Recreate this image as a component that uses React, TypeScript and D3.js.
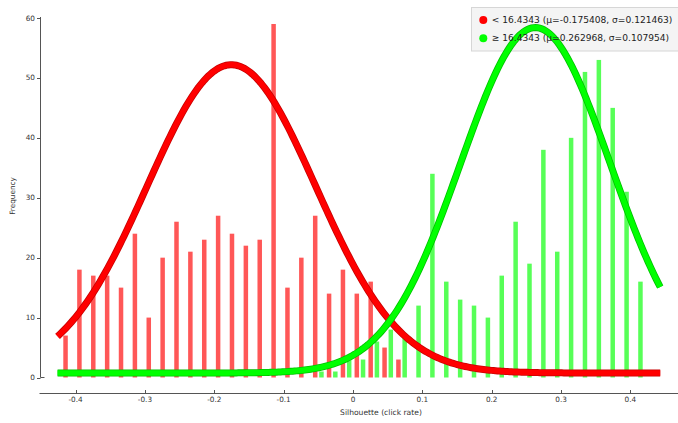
import React from "react";
import * as d3 from "d3";

const W = 678;
const H = 423;

// bin centres: -0.41 ... 0.41 step 0.02 (index k)
const binStart = -0.41;
const binStep = 0.02;
const redStartIndex = 0;
const redCounts = [7, 18, 17, 17, 15, 24, 10, 20, 26, 21, 23, 27, 24, 22, 23, 59, 15, 20, 27, 14, 18, 14, 16, 5, 3];
const greenStartIndex = 18;
const greenCounts = [1, 1, 3, 3, 6, 8, 7, 12, 34, 16, 13, 12, 10, 17, 26, 19, 38, 21, 40, 51, 53, 45, 31, 16];

const redMu = -0.175408;
const redSigma = 0.121463;
const greenMu = 0.262968;
const greenSigma = 0.107954;
const curveScale = 0.0323;
const curveBase = 0.75;
const curveDomain = [-0.426, 0.443];

const xTicks = [-0.4, -0.3, -0.2, -0.1, 0, 0.1, 0.2, 0.3, 0.4];
const yTicks = [0, 10, 20, 30, 40, 50, 60];

const legendLabels = [
  "< 16.4343 (\u03bc=-0.175408, \u03c3=0.121463)",
  "\u2265 16.4343 (\u03bc=0.262968, \u03c3=0.107954)",
];

export default function App() {
  const x = d3.scaleLinear().domain([-0.4, 0.4]).range([75.6, 630.4]);
  const y = d3.scaleLinear().domain([0, 60]).range([377.5, 18]);
  const barW = 4.5;
  const off = 0.0045;

  const gauss = (mu: number, sigma: number, n: number) => {
    const A = (n * curveScale) / (sigma * Math.sqrt(2 * Math.PI));
    const pts: [number, number][] = [];
    const N = 300;
    for (let i = 0; i <= N; i++) {
      const v = curveDomain[0] + ((curveDomain[1] - curveDomain[0]) * i) / N;
      pts.push([v, curveBase + A * Math.exp(-((v - mu) ** 2) / (2 * sigma * sigma))]);
    }
    return pts;
  };
  const line = d3
    .line<[number, number]>()
    .x((d) => x(d[0]))
    .y((d) => y(d[1]))
    .curve(d3.curveLinear);

  const redN = d3.sum(redCounts);
  const greenN = d3.sum(greenCounts);
  const redPath = line(gauss(redMu, redSigma, redN)) || "";
  const greenPath = line(gauss(greenMu, greenSigma, greenN)) || "";

  const axisColor = "#555";
  const textColor = "#333";
  const font = "DejaVu Sans, Verdana, sans-serif";

  return (
    <svg
      width={W}
      height={H}
      style={{ position: "absolute", left: 0, top: 0, background: "#fff" }}
      fontFamily={font}
    >
      <rect x={0} y={0} width={W} height={H} fill="#fff" />
      {/* legend box (behind curves) */}
      <rect x={471.5} y={7.5} width={220} height={43.5} fill="#f4f4f4" stroke="#d6d6d6" />
      {/* bars */}
      {redCounts.map((c, i) => {
        const v = binStart + binStep * (redStartIndex + i) - off;
        return (
          <rect
            key={"r" + i}
            x={x(v) - barW / 2}
            y={y(c)}
            width={barW}
            height={y(0) - y(c)}
            fill="#ff0000"
            fillOpacity={0.66}
          />
        );
      })}
      {greenCounts.map((c, i) => {
        const v = binStart + binStep * (greenStartIndex + i) + off;
        return (
          <rect
            key={"g" + i}
            x={x(v) - barW / 2}
            y={y(c)}
            width={barW}
            height={y(0) - y(c)}
            fill="#00ff00"
            fillOpacity={0.66}
          />
        );
      })}
      {/* curves */}
      <path d={redPath} fill="none" stroke="#c80000" strokeWidth={7} />
      <path d={redPath} fill="none" stroke="#ff0000" strokeWidth={5.4} />
      <path d={greenPath} fill="none" stroke="#00c000" strokeWidth={7} />
      <path d={greenPath} fill="none" stroke="#00ff00" strokeWidth={5.4} />

      {/* y axis */}
      <line x1={40.5} x2={40.5} y1={17} y2={377.5} stroke={axisColor} strokeWidth={1} />
      <line x1={40.5} x2={44.5} y1={377.5} y2={377.5} stroke={axisColor} strokeWidth={1} />
      {yTicks.map((t) => (
        <g key={"yt" + t}>
          <line x1={37} x2={40.5} y1={Math.round(y(t)) + 0.5} y2={Math.round(y(t)) + 0.5} stroke={axisColor} />
          <text
            x={35}
            y={y(t)}
            dy="0.35em"
            textAnchor="end"
            fontSize={7.3}
            fill={textColor}
          >
            {t}
          </text>
        </g>
      ))}
      <text
        transform={`translate(14.5,196) rotate(-90)`}
        textAnchor="middle"
        fontSize={7.3}
        fill={textColor}
      >
        Frequency
      </text>

      {/* x axis */}
      <line x1={39.5} x2={W} y1={393.5} y2={393.5} stroke={axisColor} strokeWidth={1} />
      {xTicks.map((t) => (
        <g key={"xt" + t}>
          <line
            x1={Math.round(x(t)) + 0.5}
            x2={Math.round(x(t)) + 0.5}
            y1={390}
            y2={393.5}
            stroke={axisColor}
          />
          <text x={x(t)} y={402} textAnchor="middle" fontSize={7.3} fill={textColor}>
            {t === 0 ? "0" : t.toFixed(1)}
          </text>
        </g>
      ))}
      <text x={381} y={414.5} textAnchor="middle" fontSize={7.6} fill={textColor}>
        Silhouette (click rate)
      </text>

      {/* legend items */}
      <circle cx={483.3} cy={20} r={4} fill="#ff0000" />
      <circle cx={483.3} cy={38.3} r={4} fill="#00ff00" />
      <text x={491.7} y={20} dy="0.35em" fontSize={9.1} fill="#222">
        {legendLabels[0]}
      </text>
      <text x={491.7} y={38.3} dy="0.35em" fontSize={9.1} fill="#222">
        {legendLabels[1]}
      </text>
    </svg>
  );
}
